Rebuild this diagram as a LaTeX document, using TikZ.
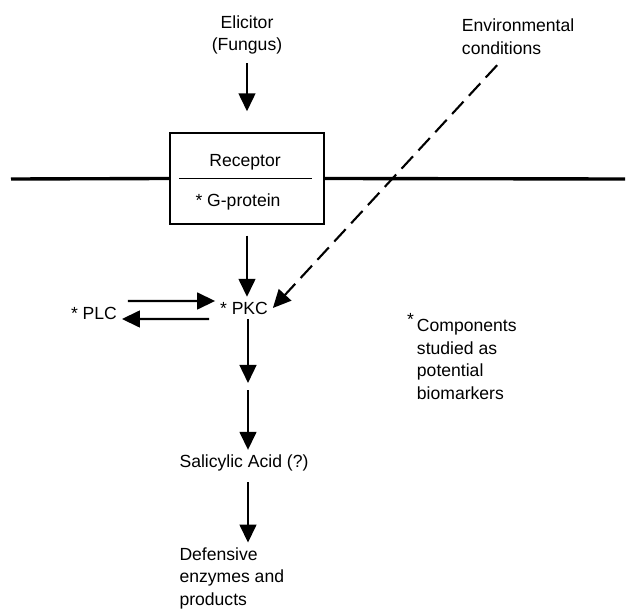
\documentclass[tikz,border=0pt]{standalone}
\usepackage{fontspec}
\setmainfont{Liberation Sans}
\usepackage{tikz}
\usetikzlibrary{arrows.meta,positioning,calc}
\tikzstyle{arrow} = [line width=1.5pt,-{Triangle[length=0.45cm,width=0.42cm]}]
\tikzstyle{dasharrow} = [arrow, dash pattern=on 0.42cm off 0.2cm]
\tikzstyle{membrane} = [line width=2.4pt]
\tikzstyle{txt} = [font=\fontsize{12.5}{16}\selectfont, align=center]
\tikzstyle{receptorbox} = [rectangle, draw, line width=1pt, minimum width=3.85cm, minimum height=2.275cm]

\begin{document}
\begin{tikzpicture}[x=0.025cm, y=-0.025cm]
\useasboundingbox (0,0) rectangle (626,610);

% Inputs
\node[txt] (elicitor) at (247,35) {Elicitor\\(Fungus)};
\node[txt, align=left, anchor=west] (env) at (457,36.5) {Environmental\\conditions};

% Receptor in the membrane
\node[receptorbox] (rcpt) at (247,178.5) {};
\node[txt] (receptor) at (245,162) {Receptor};
\node[txt] (gprot) at (238,202) {* G-protein};
\draw[line width=1pt] ([xshift=0.25cm]rcpt.west) -- ([xshift=-0.325cm]rcpt.east);
\coordinate (memL) at (11,179);
\coordinate (memR) at (625,179);
\draw[membrane] (memL) -- (rcpt.west);
\draw[membrane] (rcpt.east) -- (memR);

% Kinases
\node[txt] (pkc) at (244,308) {* PKC};
\node[txt] (plc) at (94,313) {* PLC};
\coordinate (mid) at (248,386.5);

% Products
\node[txt] (sal) at (244,463) {Salicylic Acid (?)};
\node[txt, align=left, below=1.66cm of sal.south west, anchor=north west] (def) {Defensive\\enzymes and\\products};

% Note
\node[txt, align=left, anchor=west] (note) at (412,356.5) {\llap{\raisebox{4pt}{*}\,}Components\\studied as\\potential\\biomarkers};

% Arrows
\draw[arrow, shorten <=0.1cm, shorten >=0.525cm] (elicitor.south -| rcpt.north) -- (rcpt.north);
\draw[arrow, shorten <=0.275cm] (rcpt.south) -- (rcpt.south |- pkc.north);
\draw[arrow] ([xshift=0.15cm,yshift=0.3cm]plc.east) -- ([yshift=0.175cm]pkc.west);
\draw[arrow] ([xshift=-0.15cm,yshift=-0.275cm]pkc.west) -- ([yshift=-0.15cm]plc.east);
\draw[dasharrow] ([xshift=-0.525cm,yshift=-0.15cm]env.south) -- (pkc.east);
\draw[arrow, shorten >=0.0875cm] (pkc.south -| mid) -- (mid);
\draw[arrow, shorten <=0.0875cm] (mid) -- (mid |- sal.north);
\draw[arrow, shorten <=0.15cm] (sal.south -| mid) -- (mid |- def.north);
\end{tikzpicture}
\end{document}
